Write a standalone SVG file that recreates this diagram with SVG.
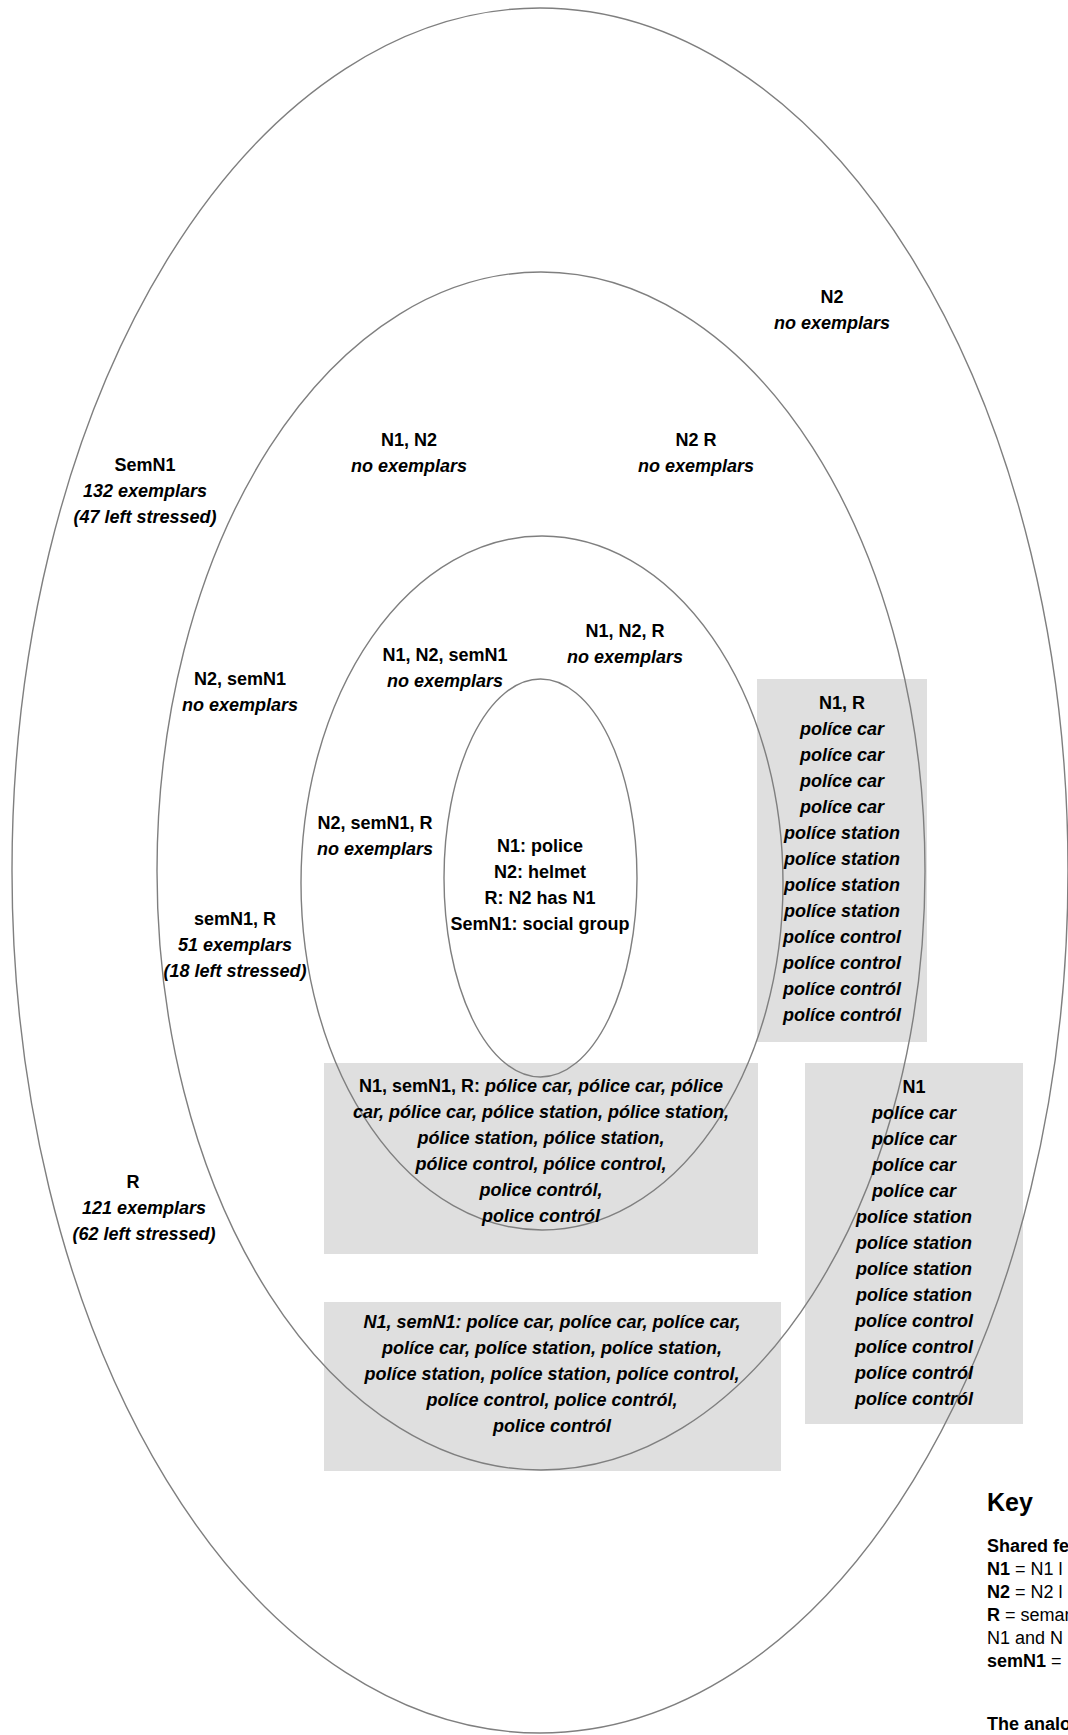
<svg xmlns="http://www.w3.org/2000/svg" width="1068" height="1735" viewBox="0 0 1068 1735">
<style>
.ring{fill:none;stroke:#7f7f7f;stroke-width:1.4}
.box{fill:#dfdfdf}
text{font-family:"Liberation Sans",Arial,sans-serif;font-size:18px;font-weight:bold;fill:#000;text-anchor:middle}
.i{font-style:italic}
.n{font-style:normal}
.key{text-anchor:start}
.r{font-weight:normal}
</style>
<rect width="1068" height="1735" fill="#fff"/>
<g id="boxes">
<rect class="box" x="757" y="679" width="170" height="363"/>
<rect class="box" x="805" y="1063" width="218" height="361"/>
<rect class="box" x="324" y="1063" width="434" height="191"/>
<rect class="box" x="324" y="1302" width="457" height="169"/>
</g>
<g id="connectors">
<ellipse id="ring-outer" class="ring" cx="540" cy="870.5" rx="528" ry="862.5"/>
<ellipse id="ring-middle" class="ring" cx="541" cy="871" rx="384" ry="599"/>
<ellipse id="ring-third" class="ring" cx="542" cy="883" rx="241" ry="347"/>
<ellipse id="ring-inner" class="ring" cx="540.5" cy="878" rx="96.5" ry="199"/>
</g>
<g id="node-N2">
<text x="832" y="303">N2</text>
<text class="i" x="832" y="329">no exemplars</text>
</g>
<g id="node-SemN1">
<text x="145" y="471">SemN1</text>
<text class="i" x="145" y="497">132 exemplars</text>
<text class="i" x="145" y="523">(47 left stressed)</text>
</g>
<g id="node-N1-N2">
<text x="409" y="446">N1, N2</text>
<text class="i" x="409" y="472">no exemplars</text>
</g>
<g id="node-N2-R">
<text x="696" y="446">N2 R</text>
<text class="i" x="696" y="472">no exemplars</text>
</g>
<g id="node-N1-N2-semN1">
<text x="445" y="661">N1, N2, semN1</text>
<text class="i" x="445" y="687">no exemplars</text>
</g>
<g id="node-N1-N2-R">
<text x="625" y="637">N1, N2, R</text>
<text class="i" x="625" y="663">no exemplars</text>
</g>
<g id="node-N2-semN1">
<text x="240" y="685">N2, semN1</text>
<text class="i" x="240" y="711">no exemplars</text>
</g>
<g id="node-N2-semN1-R">
<text x="375" y="829">N2, semN1, R</text>
<text class="i" x="375" y="855">no exemplars</text>
</g>
<g id="node-semN1-R">
<text x="235" y="925">semN1, R</text>
<text class="i" x="235" y="951">51 exemplars</text>
<text class="i" x="235" y="977">(18 left stressed)</text>
</g>
<g id="node-R">
<text x="133" y="1188">R</text>
<text class="i" x="144" y="1214">121 exemplars</text>
<text class="i" x="144" y="1240">(62 left stressed)</text>
</g>
<g id="node-centre">
<text x="540" y="852">N1: police</text>
<text x="540" y="878">N2: helmet</text>
<text x="540" y="904">R: N2 has N1</text>
<text x="540" y="930">SemN1: social group</text>
</g>
<g id="node-N1-R">
<text x="842" y="709">N1, R</text>
<text class="i" x="842" y="735">políce car</text>
<text class="i" x="842" y="761">políce car</text>
<text class="i" x="842" y="787">políce car</text>
<text class="i" x="842" y="813">políce car</text>
<text class="i" x="842" y="839">políce station</text>
<text class="i" x="842" y="865">políce station</text>
<text class="i" x="842" y="891">políce station</text>
<text class="i" x="842" y="917">políce station</text>
<text class="i" x="842" y="943">políce control</text>
<text class="i" x="842" y="969">políce control</text>
<text class="i" x="842" y="995">políce contról</text>
<text class="i" x="842" y="1021">políce contról</text>
</g>
<g id="node-N1">
<text x="914" y="1093">N1</text>
<text class="i" x="914" y="1119">políce car</text>
<text class="i" x="914" y="1145">políce car</text>
<text class="i" x="914" y="1171">políce car</text>
<text class="i" x="914" y="1197">políce car</text>
<text class="i" x="914" y="1223">políce station</text>
<text class="i" x="914" y="1249">políce station</text>
<text class="i" x="914" y="1275">políce station</text>
<text class="i" x="914" y="1301">políce station</text>
<text class="i" x="914" y="1327">políce control</text>
<text class="i" x="914" y="1353">políce control</text>
<text class="i" x="914" y="1379">políce contról</text>
<text class="i" x="914" y="1405">políce contról</text>
</g>
<g id="node-N1-semN1-R">
<text x="541" y="1092"><tspan class="n">N1, semN1, R: </tspan><tspan class="i">pólice car, pólice car, pólice</tspan></text>
<text class="i" x="541" y="1118">car, pólice car, pólice station, pólice station,</text>
<text class="i" x="541" y="1144">pólice station, pólice station,</text>
<text class="i" x="541" y="1170">pólice control, pólice control,</text>
<text class="i" x="541" y="1196">police contról,</text>
<text class="i" x="541" y="1222">police contról</text>
</g>
<g id="node-N1-semN1">
<text class="i" x="552" y="1328">N1, semN1: políce car, políce car, políce car,</text>
<text class="i" x="552" y="1354">políce car, políce station, políce station,</text>
<text class="i" x="552" y="1380">políce station, políce station, políce control,</text>
<text class="i" x="552" y="1406">políce control, police contról,</text>
<text class="i" x="552" y="1432">police contról</text>
</g>
<g id="key">
<text class="key" x="987" y="1511" style="font-size:25px">Key</text>
<text class="key" x="987" y="1552">Shared fe</text>
<text class="key" x="987" y="1575">N1<tspan class="r"> = N1 l</tspan></text>
<text class="key" x="987" y="1598">N2<tspan class="r"> = N2 l</tspan></text>
<text class="key" x="987" y="1621">R<tspan class="r"> = seman</tspan></text>
<text class="key r" x="987" y="1644">N1 and N</text>
<text class="key" x="987" y="1667">semN1<tspan class="r"> =</tspan></text>
<text class="key" x="987" y="1730">The analo</text>
</g>
</svg>
